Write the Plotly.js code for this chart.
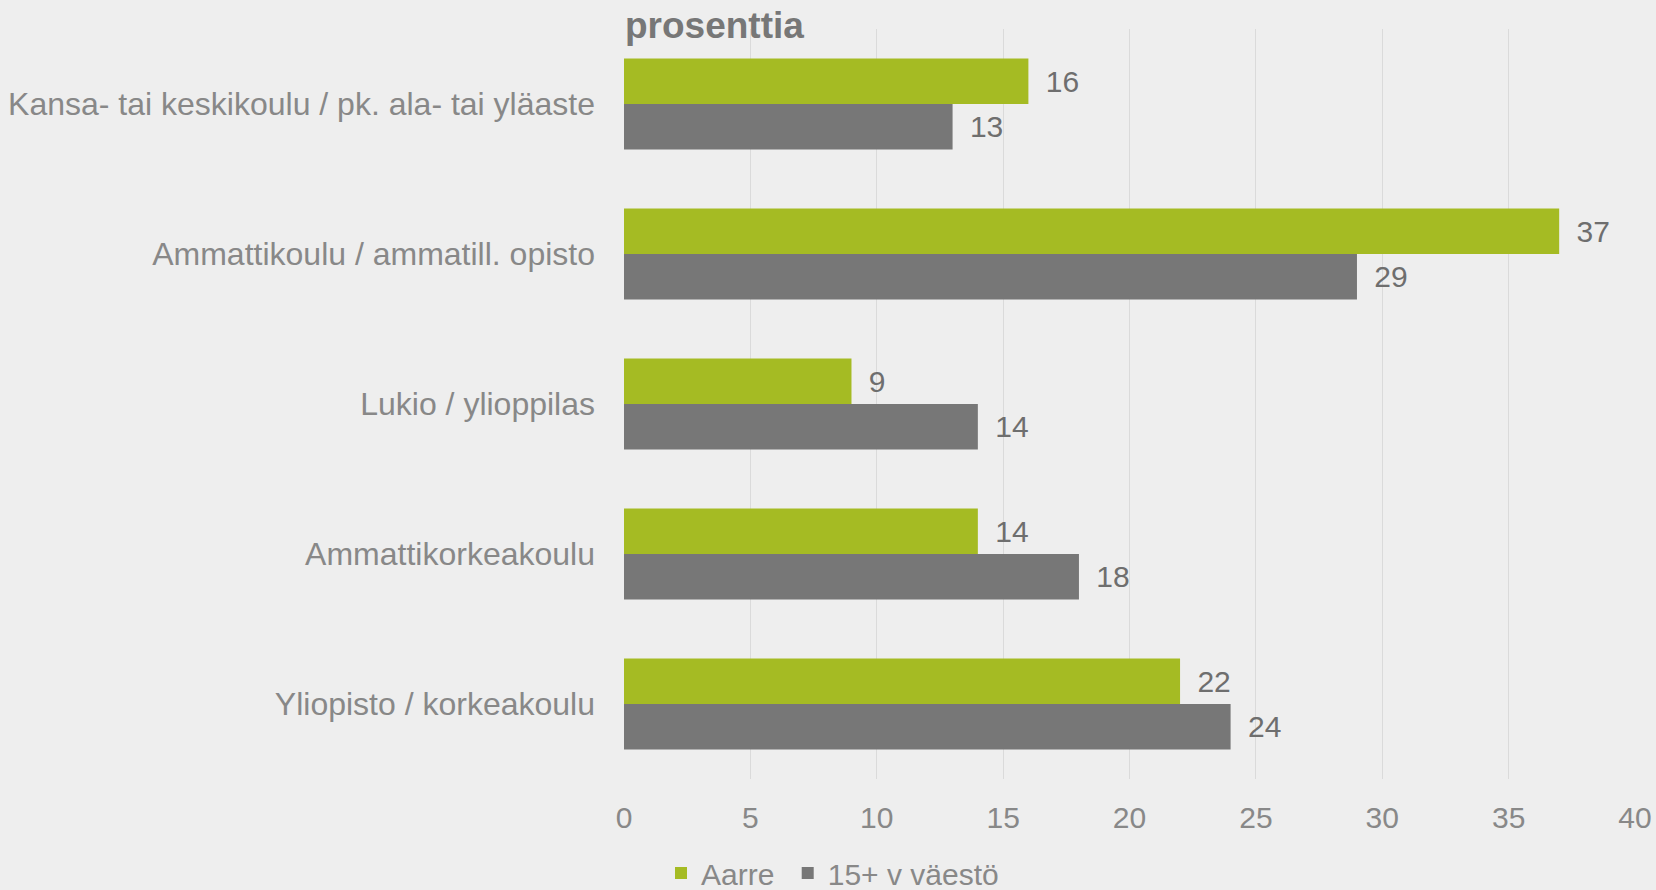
<!DOCTYPE html>
<html>
<head>
<meta charset="utf-8">
<script src="https://cdn.plot.ly/plotly-3.0.1.min.js"></script>
<style>
  html, body { margin: 0; padding: 0; background: #eeeeee; }
  #chart { width: 1656px; height: 890px; }
</style>
</head>
<body>
<div id="chart"></div>
<script>
const categories = [
  "Kansa- tai keskikoulu / pk. ala- tai yläaste",
  "Ammattikoulu / ammatill. opisto",
  "Lukio / ylioppilas",
  "Ammattikorkeakoulu",
  "Yliopisto / korkeakoulu"
];
const seriesNames = ["Aarre", "15+ v väestö"];
const aarre = [16, 37, 9, 14, 22];
const vaesto = [13, 29, 14, 18, 24];
const xTicks = [0, 5, 10, 15, 20, 25, 30, 35, 40];

const FONT = '"Liberation Sans", Arial, sans-serif';
const labelFont = { family: FONT, size: 30, color: '#6e6e6e' };

function barTrace(name, values, color, legendPad) {
  return {
    type: 'bar',
    orientation: 'h',
    name: name + legendPad,
    y: categories,
    x: values,
    marker: { color: color, line: { width: 0 } },
    text: values.map(String),
    texttemplate: '\u00a0\u2009%{text}',
    textposition: 'outside',
    textfont: labelFont,
    constraintext: 'none',
    cliponaxis: false,
    hoverinfo: 'x+name'
  };
}

const data = [
  barTrace(seriesNames[0], aarre, '#a5bb23', '\u00a0'),
  barTrace(seriesNames[1], vaesto, '#777777', '')
];

const layout = {
  width: 1656,
  height: 890,
  paper_bgcolor: '#eeeeee',
  plot_bgcolor: '#eeeeee',
  font: { family: FONT, size: 30, color: '#888888' },
  margin: { l: 624, r: 21, t: 29, b: 111, pad: 0 },
  barmode: 'group',
  bargap: 0.393,
  bargroupgap: 0,
  title: {
    text: '<b>prosenttia</b>',
    font: { family: FONT, size: 37, color: '#777777' },
    x: 625 / 1656,
    xanchor: 'left',
    xref: 'container',
    y: 1 - 25 / 890,
    yanchor: 'middle',
    yref: 'container'
  },
  xaxis: {
    range: [0, 40],
    tickvals: xTicks,
    ticktext: xTicks.map(String),
    showgrid: true,
    gridcolor: '#dadada',
    gridwidth: 1,
    zeroline: false,
    showline: false,
    ticks: '',
    tickfont: { family: FONT, size: 30, color: '#888888' },
    ticklabelstandoff: 18,
    fixedrange: true
  },
  yaxis: {
    type: 'category',
    autorange: 'reversed',
    showgrid: false,
    zeroline: false,
    showline: false,
    ticks: '',
    tickfont: { family: FONT, size: 32, color: '#888888' },
    ticklabelstandoff: 28,
    fixedrange: true
  },
  showlegend: true,
  legend: {
    orientation: 'h',
    x: (661 - 624) / 1011,
    xanchor: 'left',
    xref: 'paper',
    y: 1 - 873 / 890,
    yanchor: 'middle',
    yref: 'container',
    font: { family: FONT, size: 30, color: '#888888' },
    bgcolor: 'rgba(0,0,0,0)',
    borderwidth: 0,
    traceorder: 'normal'
  }
};

Plotly.newPlot('chart', data, layout, { displayModeBar: false, responsive: false });
</script>
</body>
</html>
